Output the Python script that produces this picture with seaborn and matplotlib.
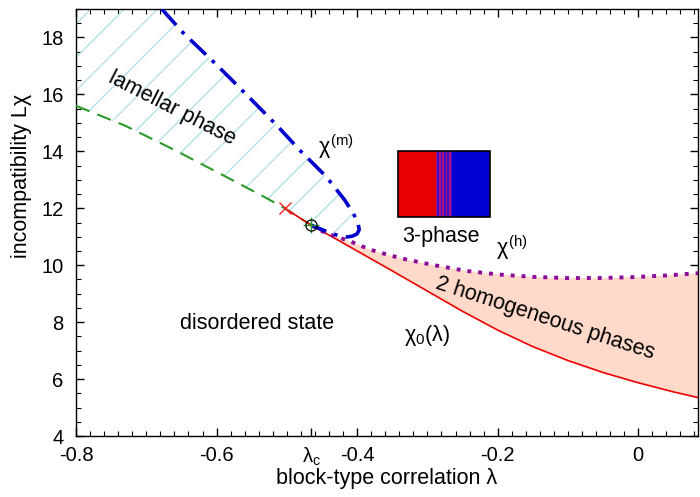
import matplotlib
matplotlib.use("Agg")
import matplotlib.pyplot as plt
import seaborn as sns
from matplotlib.patches import Rectangle
from matplotlib.ticker import MultipleLocator

# ---------------- data ----------------
lam_c = -0.465
crit_val = 11.40
cross_lam = -0.503
cross_val = 12.00

# lamellar spinodal (green dashed)
green_lam = [-0.80, -0.73, -0.66, -0.59, -0.53, -0.503, -0.465]
green_val = [15.60, 14.90, 14.05, 13.15, 12.37, 12.00, 11.40]

# chi^(m) (blue dash-dot, closed loop near lambda_c)
chim_lam = [-0.678, -0.647, -0.600, -0.557, -0.515, -0.482, -0.444, -0.418,
            -0.405, -0.399, -0.397, -0.400, -0.407, -0.415, -0.425, -0.434,
            -0.445, -0.455, -0.465]
chim_val = [19.00, 18.15, 17.04, 15.98, 14.93, 14.05, 13.11, 12.30,
            11.80, 11.50, 11.25, 11.10, 11.02, 10.99, 11.03, 11.10,
            11.20, 11.30, 11.40]

# chi^(h) (purple dotted)
chih_lam = [-0.465, -0.445, -0.422, -0.408, -0.382, -0.354, -0.330, -0.290,
            -0.245, -0.197, -0.150, -0.103, -0.055, -0.008, 0.040, 0.085]
chih_val = [11.40, 11.13, 10.94, 10.82, 10.55, 10.35, 10.20, 10.00,
            9.80, 9.67, 9.59, 9.55, 9.55, 9.58, 9.64, 9.72]

# chi_0(lambda) (red solid)
chi0_lam = [-0.503, -0.465, -0.43, -0.40, -0.35, -0.30, -0.25, -0.20,
            -0.15, -0.10, -0.05, 0.00, 0.05, 0.085]
chi0_val = [12.00, 11.40, 10.92, 10.50, 9.80, 9.09, 8.38, 7.72,
            7.14, 6.65, 6.23, 5.87, 5.55, 5.35]

xtick_vals = [-0.8, -0.6, lam_c, -0.4, -0.2, 0.0]
xtick_labels = ["-0.8", "-0.6", r"$\lambda_\mathrm{c}$", "-0.4", "-0.2", "0"]
ytick_vals = [4, 6, 8, 10, 12, 14, 16, 18]

# ---------------- style ----------------
sns.set_theme(style="ticks")
plt.rcParams["font.family"] = ["Liberation Sans", "DejaVu Sans"]
plt.rcParams["mathtext.fontset"] = "custom"
plt.rcParams["mathtext.rm"] = "Liberation Sans"
plt.rcParams["mathtext.it"] = "Liberation Sans"
plt.rcParams["mathtext.bf"] = "Liberation Sans:bold"
plt.rcParams["axes.unicode_minus"] = False
plt.rcParams["hatch.linewidth"] = 0.9
for k in ["text.color", "axes.labelcolor", "xtick.color", "ytick.color", "axes.edgecolor"]:
    plt.rcParams[k] = "black"

fig = plt.figure(figsize=(7, 4.97), dpi=100)
ax = fig.add_axes([76 / 700, 61 / 497, 622 / 700, 427 / 497])
XMIN, XMAX, YMIN, YMAX = -0.8, 0.085, 4, 19

# ---------------- regions ----------------
# lamellar (hatched light blue)
hx = [XMIN] + chim_lam + green_lam[::-1]
hy = [YMAX] + chim_val + green_val[::-1]
ax.fill(hx, hy, facecolor="none", edgecolor="#b0dcea", hatch="/", linewidth=0, zorder=1)

# two homogeneous phases (salmon)
sx = chih_lam + chi0_lam[::-1][:-1]
sy = chih_val + chi0_val[::-1][:-1]
ax.fill(sx, sy, facecolor="#ffdacb", edgecolor="none", linewidth=0, zorder=1)

# ---------------- curves ----------------
sns.lineplot(x=green_lam, y=green_val, sort=False, estimator=None, ax=ax,
             color="#2a9a2a", lw=1.5, linestyle=(0, (7, 4)), zorder=3)
sns.lineplot(x=chi0_lam, y=chi0_val, sort=False, estimator=None, ax=ax,
             color="#ee0000", lw=1.2, zorder=4)
sns.lineplot(x=chih_lam, y=chih_val, sort=False, estimator=None, ax=ax,
             color="#8a0a9a", lw=2.8, linestyle=(0, (1, 1.8)), zorder=4)
sns.lineplot(x=chim_lam, y=chim_val, sort=False, estimator=None, ax=ax,
             color="#0000cc", lw=2.6, linestyle=(0, (6.0, 2.3, 1.0, 2.3)), zorder=5)

# markers
ax.plot([cross_lam], [cross_val], marker="x", color="#ee2222", ms=8, mew=1.0, ls="none", zorder=6)
ax.plot([lam_c], [crit_val], marker="+", color="#2a9a2a", ms=11, mew=1.0, ls="none", zorder=6)
ax.plot([lam_c], [crit_val], marker="o", mfc="none", mec="black", ms=8, mew=0.9, ls="none", zorder=7)

# ---------------- inset: 3-phase profile ----------------
rx0, rx1, ry0, ry1 = -0.342, -0.2115, 11.68, 14.02
sx0, sx1 = -0.288, -0.2645
ax.add_patch(Rectangle((rx0, ry0), sx0 - rx0, ry1 - ry0, facecolor="#e60000", edgecolor="none", zorder=6))
ax.add_patch(Rectangle((sx0, ry0), rx1 - sx0, ry1 - ry0, facecolor="#0000d0", edgecolor="none", zorder=6))
nstripe = 10
w = (sx1 - sx0) / nstripe
for i in range(nstripe):
    col = "#b0108a" if i % 2 == 0 else "#3a10c0"
    ax.add_patch(Rectangle((sx0 + i * w, ry0), w, ry1 - ry0, facecolor=col, edgecolor="none", zorder=6))
ax.add_patch(Rectangle((rx0, ry0), rx1 - rx0, ry1 - ry0, facecolor="none", edgecolor="black", lw=1.2, zorder=7))

# ---------------- labels ----------------
fs = 15.5
ax.text(-0.664, 15.52, "lamellar phase", rotation=-27, ha="center", va="center", fontsize=fs)
ax.text(-0.455, 14.15, r"$\chi^{(m)}$", ha="left", va="center", fontsize=fs)
ax.text(-0.280, 11.02, "3-phase", ha="center", va="center", fontsize=fs)
ax.text(-0.203, 10.60, r"$\chi^{(h)}$", ha="left", va="center", fontsize=fs)
ax.text(-0.133, 8.13, "2 homogeneous phases", rotation=-18, ha="center", va="center", fontsize=fs)
ax.text(-0.301, 7.53, r"$\chi_0(\lambda)$", ha="center", va="center", fontsize=fs)
ax.text(-0.543, 7.94, "disordered state", ha="center", va="center", fontsize=fs)

# ---------------- axes ----------------
ax.set_xlim(XMIN, XMAX)
ax.set_ylim(YMIN, YMAX)
ax.set_xticks(xtick_vals)
ax.set_xticklabels(xtick_labels)
ax.set_yticks(ytick_vals)
ax.xaxis.set_minor_locator(MultipleLocator(0.02))
ax.yaxis.set_minor_locator(MultipleLocator(0.5))
ax.tick_params(which="both", direction="in", top=True, right=True, colors="black", labelsize=14.5)
ax.tick_params(which="major", length=6, width=1.0)
ax.tick_params(which="minor", length=3.5, width=0.8)
ax.tick_params(axis="x", pad=7)
ax.tick_params(axis="y", pad=9)
for sp in ax.spines.values():
    sp.set_color("black")
    sp.set_linewidth(1.0)

ax.set_xlabel("block-type correlation λ", fontsize=15.5)
ax.set_ylabel("incompatibility Lχ", fontsize=15.5)
ax.xaxis.set_label_coords(0.5, -0.074)
ax.yaxis.set_label_coords(-0.071, 0.609)

fig.savefig("out.png", dpi=100)
